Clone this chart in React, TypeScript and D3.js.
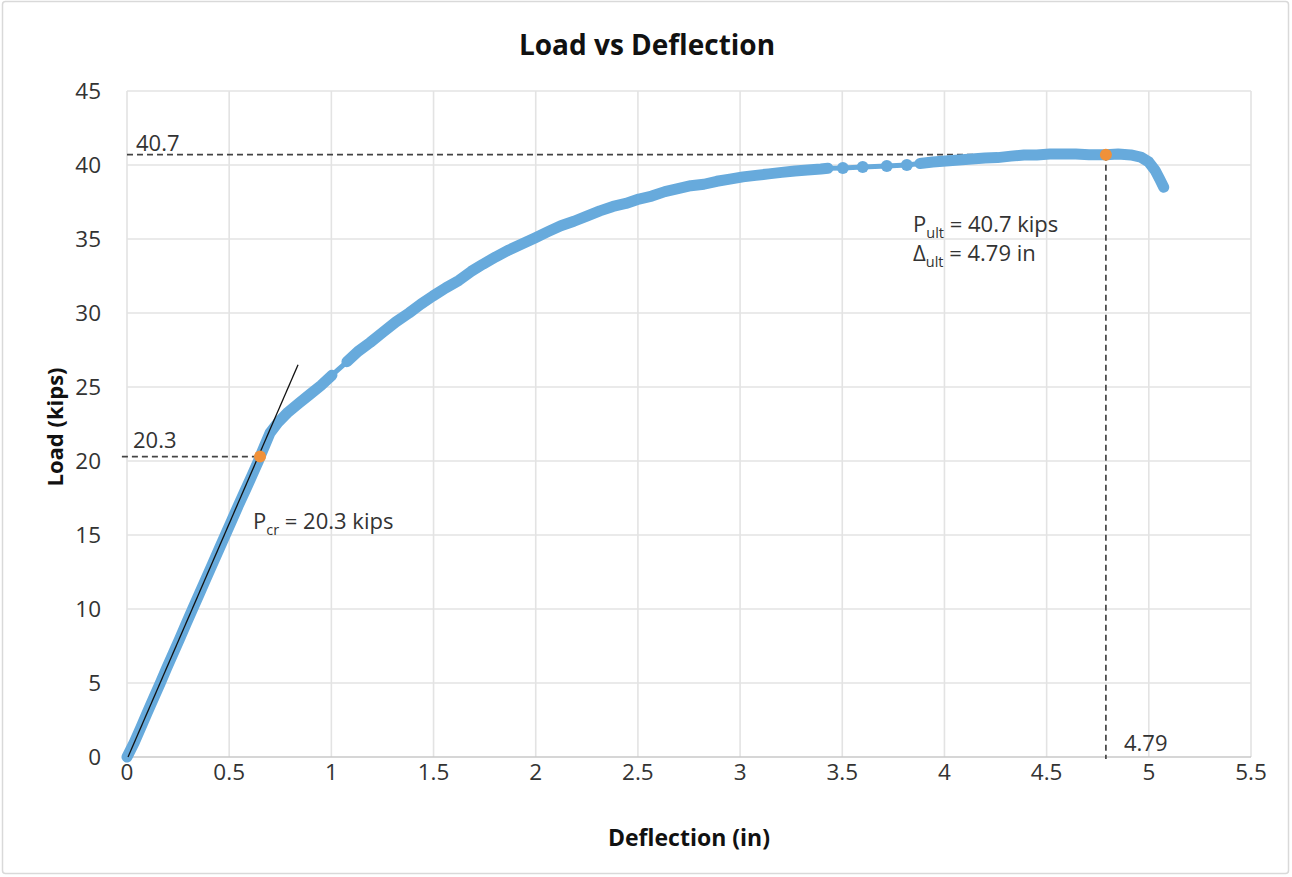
import React, { useEffect, useRef } from 'react';
import * as d3 from 'd3';

const elasticDeflection = [0, 0.036, 0.068, 0.099, 0.131, 0.163, 0.194, 0.226, 0.258, 0.289, 0.321, 0.353, 0.385, 0.417, 0.449, 0.481, 0.513, 0.545, 0.578, 0.611, 0.643, 0.651, 0.675, 0.7, 0.739, 0.788, 0.841, 0.895, 0.949, 1.003];
const elasticLoad = [0, 1, 2, 3, 4, 5, 6, 7, 8, 9, 10, 11, 12, 13, 14, 15, 16, 17, 18, 19, 20, 20.3, 21.08, 21.9, 22.6, 23.3, 23.9, 24.5, 25.1, 25.8];

const hardeningDeflection = [1.076, 1.13, 1.189, 1.252, 1.316, 1.38, 1.438, 1.497, 1.56, 1.624, 1.683, 1.742, 1.805, 1.869, 1.932, 1.996, 2.06, 2.123, 2.187, 2.25, 2.314, 2.378, 2.441, 2.505, 2.568, 2.632, 2.696, 2.759, 2.823, 2.886, 2.95, 3.014, 3.077, 3.14, 3.204, 3.268, 3.33, 3.395, 3.43];
const hardeningLoad = [26.7, 27.4, 28.0, 28.7, 29.4, 30.0, 30.6, 31.15, 31.7, 32.2, 32.8, 33.3, 33.8, 34.26, 34.66, 35.07, 35.5, 35.9, 36.2, 36.55, 36.9, 37.2, 37.4, 37.7, 37.9, 38.2, 38.4, 38.6, 38.7, 38.9, 39.05, 39.2, 39.3, 39.4, 39.5, 39.6, 39.66, 39.73, 39.78];

const sparseDeflection = [3.503, 3.6, 3.718, 3.816];
const sparseLoad = [39.8, 39.86, 39.93, 40.0];

const peakDeflection = [3.88, 3.943, 4.007, 4.07, 4.134, 4.198, 4.26, 4.325, 4.389, 4.452, 4.516, 4.58, 4.643, 4.707, 4.76, 4.79, 4.85, 4.912, 4.96, 5.0, 5.03, 5.053, 5.073];
const peakLoad = [40.1, 40.2, 40.27, 40.34, 40.4, 40.47, 40.5, 40.6, 40.68, 40.68, 40.74, 40.74, 40.74, 40.7, 40.7, 40.7, 40.74, 40.68, 40.54, 40.2, 39.66, 39.05, 38.5];

// initial stiffness line
const tangentDeflection = [0.005, 0.837];
const tangentLoad = [0, 26.5];

const crack = { deflection: 0.651, load: 20.3 };
const ultimate = { deflection: 4.79, load: 40.7 };

const xTicks = [0, 0.5, 1, 1.5, 2, 2.5, 3, 3.5, 4, 4.5, 5, 5.5];
const yTicks = [0, 5, 10, 15, 20, 25, 30, 35, 40, 45];

const zip = (xs, ys) => xs.map((d, i) => [d, ys[i]]);

const App = () => {
	const chartRef = useRef(null);

	useEffect(() => {
		const W = 1292, H = 877;
		const left = 127, right = 1251, top = 91, bottom = 757;
		const font = '"Open Sans", "Liberation Sans", sans-serif';
		const blue = '#67aadc';
		const orange = '#f0913a';
		const text = '#333';

		d3.select(chartRef.current).selectAll('*').remove();

		const svg = d3.select(chartRef.current)
			.append('svg')
			.attr('width', W)
			.attr('height', H)
			.style('position', 'absolute')
			.style('left', 0)
			.style('top', 0)
			.style('font-family', font);

		svg.append('rect')
			.attr('x', 2.5).attr('y', 1.5)
			.attr('width', W - 6).attr('height', H - 5)
			.attr('rx', 3)
			.attr('fill', '#fff')
			.attr('stroke', '#d9d9d9')
			.attr('stroke-width', 1.5);

		const x = d3.scaleLinear().domain([0, 5.5]).range([left, right]);
		const y = d3.scaleLinear().domain([0, 45]).range([bottom, top]);

		// grid
		svg.append('g').selectAll('line').data(xTicks).join('line')
			.attr('x1', d => x(d)).attr('x2', d => x(d))
			.attr('y1', top).attr('y2', bottom)
			.attr('stroke', '#e3e3e3').attr('stroke-width', 1.6);
		svg.append('g').selectAll('line').data(yTicks).join('line')
			.attr('x1', left).attr('x2', right)
			.attr('y1', d => y(d)).attr('y2', d => y(d))
			.attr('stroke', d => d === 0 ? '#c8c8c8' : '#e3e3e3').attr('stroke-width', 1.6);

		// tick labels
		svg.append('g').selectAll('text').data(yTicks).join('text')
			.attr('x', 101).attr('y', d => y(d)).attr('dy', '0.36em')
			.attr('text-anchor', 'end')
			.attr('font-size', 22.5).attr('fill', text)
			.text(d => d);
		svg.append('g').selectAll('text').data(xTicks).join('text')
			.attr('x', d => x(d)).attr('y', 772).attr('dy', '0.36em')
			.attr('text-anchor', 'middle')
			.attr('font-size', 22.5).attr('fill', text)
			.text(d => d);

		// titles
		svg.append('text')
			.attr('x', 647).attr('y', 45).attr('dy', '0.36em')
			.attr('text-anchor', 'middle')
			.attr('font-size', 28).attr('font-weight', 'bold').attr('fill', '#111')
			.text('Load vs Deflection');
		svg.append('text')
			.attr('x', 689).attr('y', 838).attr('dy', '0.36em')
			.attr('text-anchor', 'middle')
			.attr('font-size', 23).attr('font-weight', 'bold').attr('fill', '#111')
			.text('Deflection (in)');
		svg.append('text')
			.attr('transform', 'translate(55,427) rotate(-90)')
			.attr('dy', '0.36em')
			.attr('text-anchor', 'middle')
			.attr('font-size', 22).attr('font-weight', 'bold').attr('fill', '#111')
			.text('Load (kips)');

		// dashed reference lines
		const dash = (x1, y1, x2, y2) => svg.append('line')
			.attr('x1', x1).attr('y1', y1).attr('x2', x2).attr('y2', y2)
			.attr('stroke', '#444').attr('stroke-width', 1.7)
			.attr('stroke-dasharray', '6,4');
		dash(x(0), y(ultimate.load), x(ultimate.deflection), y(ultimate.load));
		dash(x(ultimate.deflection), y(ultimate.load), x(ultimate.deflection), y(0) + 2);
		dash(x(-0.025), y(crack.load), x(crack.deflection), y(crack.load));

		// the test curve
		const elastic = zip(elasticDeflection, elasticLoad);
		const hardening = zip(hardeningDeflection, hardeningLoad);
		const sparse = zip(sparseDeflection, sparseLoad);
		const peak = zip(peakDeflection, peakLoad);
		const all = [...elastic, ...hardening, ...sparse, ...peak];

		const line = d3.line().x(d => x(d[0])).y(d => y(d[1]));

		svg.append('path')
			.datum(all)
			.attr('fill', 'none').attr('stroke', blue)
			.attr('stroke-width', 5).attr('stroke-linejoin', 'round')
			.attr('d', line);

		[elastic, hardening, peak].forEach(run => {
			svg.append('path')
				.datum(run)
				.attr('fill', 'none').attr('stroke', blue)
				.attr('stroke-width', 11)
				.attr('stroke-linejoin', 'round').attr('stroke-linecap', 'round')
				.attr('d', line);
		});

		svg.append('g').selectAll('circle').data(sparse).join('circle')
			.attr('cx', d => x(d[0])).attr('cy', d => y(d[1]))
			.attr('r', 6).attr('fill', blue);

		// tangent
		svg.append('path')
			.datum(zip(tangentDeflection, tangentLoad))
			.attr('fill', 'none').attr('stroke', '#111').attr('stroke-width', 1.3)
			.attr('d', line);

		// key points
		svg.append('g').selectAll('circle').data([crack, ultimate]).join('circle')
			.attr('cx', d => x(d.deflection)).attr('cy', d => y(d.load))
			.attr('r', 6).attr('fill', orange);

		// annotations, baseline set directly; subscripts drop 6px
		const label = (lx, ly, parts) => {
			const t = svg.append('text')
				.attr('x', lx).attr('y', ly + 8)
				.attr('font-size', 22).attr('fill', text);
			let lowered = false;
			parts.forEach(([s, sub]) => {
				const span = t.append('tspan').text(s);
				if (sub) {
					span.attr('font-size', 14.5).attr('dy', 6);
					lowered = true;
				} else if (lowered) {
					span.attr('dy', -6);
					lowered = false;
				}
			});
		};
		label(136, 143, [['40.7']]);
		label(133, 440, [['20.3']]);
		label(1124, 743, [['4.79']]);
		label(253, 521, [['P'], ['cr', true], [' = 20.3 kips']]);
		label(913, 224, [['P'], ['ult', true], [' = 40.7 kips']]);
		label(913, 253, [['Δ'], ['ult', true], [' = 4.79 in']]);
	}, []);

	return <div ref={chartRef}></div>;
};

export default App;
